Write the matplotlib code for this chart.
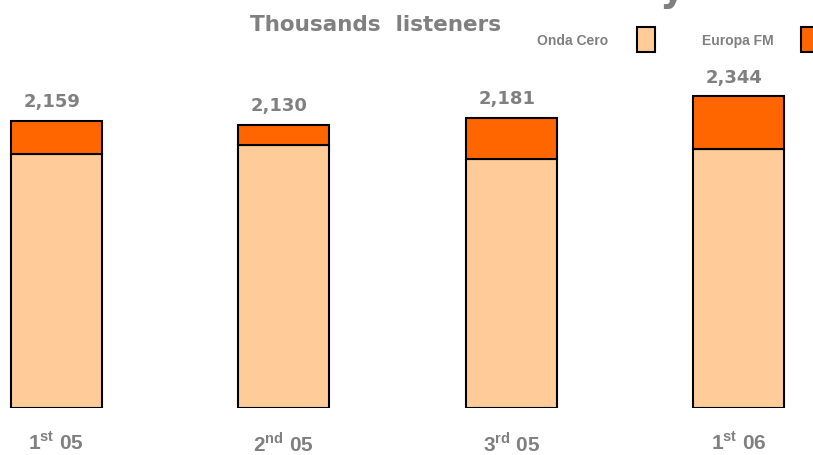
import matplotlib.pyplot as plt

plt.rcParams['mathtext.fontset'] = 'custom'
plt.rcParams['mathtext.rm'] = 'Liberation Sans'
plt.rcParams['mathtext.bf'] = 'Liberation Sans:bold'

quarters = [r'1$^{\mathbf{st}}$ 05', r'2$^{\mathbf{nd}}$ 05', r'3$^{\mathbf{rd}}$ 05', r'1$^{\mathbf{st}}$ 06']
onda_cero = [1911, 1977, 1877, 1952]
europa_fm = [248, 153, 304, 392]
totals = ['2,159', '2,130', '2,181', '2,344']

col_onda = '#FFCC99'
col_europa = '#FF6600'
gris = '#808080'

fig = plt.figure(figsize=(8.13, 4.55), dpi=100)
ax = fig.add_axes([0, 47 / 455, 1, 408 / 455])

x = list(range(len(quarters)))
ax.bar(x, onda_cero, width=0.4, color=col_onda, edgecolor='black', linewidth=1.5)
ax.bar(x, europa_fm, width=0.4, bottom=onda_cero, color=col_europa,
       edgecolor='black', linewidth=1.5)

# etiquetas con el total encima de cada barra
for i in x:
    total = onda_cero[i] + europa_fm[i]
    ax.annotate(totals[i], (i - 0.02, total), xytext=(0, 7), textcoords='offset points',
                ha='center', va='bottom', fontsize=13, fontweight='bold', color=gris)

ax.set_xlim(-0.248, 3.327)
ax.set_ylim(0, 3070)
ax.set_xticks(x)
ax.set_xticklabels(quarters, fontsize=15, fontweight='bold', color=gris,
                   family='Liberation Sans')
ax.tick_params(axis='x', length=0, pad=17)
ax.set_yticks([])
for s in ax.spines.values():
    s.set_visible(False)

fig.text(250 / 813, 1 - 25 / 455, 'Thousands  listeners', fontsize=15.5, fontweight='bold',
         color=gris, va='center', ha='left')
# resto del titulo superior, cortado por el borde
fig.text(660 / 813, 1 - 1 / 455, 'y', fontsize=28, fontweight='bold', color=gris,
         va='baseline', ha='left')

# leyenda manual
fig.text(537 / 813, 1 - 41 / 455, 'Onda Cero', fontsize=10, fontweight='bold', color=gris,
         family='Liberation Sans', va='center', ha='left')
fig.text(702 / 813, 1 - 41 / 455, 'Europa FM', fontsize=10, fontweight='bold', color=gris,
         family='Liberation Sans', va='center', ha='left')
fig.patches.append(plt.Rectangle((637 / 813, 1 - 52 / 455), 18 / 813, 25 / 455,
                                 transform=fig.transFigure, facecolor=col_onda,
                                 edgecolor='black', linewidth=1.5))
fig.patches.append(plt.Rectangle((801 / 813, 1 - 52 / 455), 18 / 813, 25 / 455,
                                 transform=fig.transFigure, facecolor=col_europa,
                                 edgecolor='black', linewidth=1.5))

fig.savefig('out.png', dpi=100)
